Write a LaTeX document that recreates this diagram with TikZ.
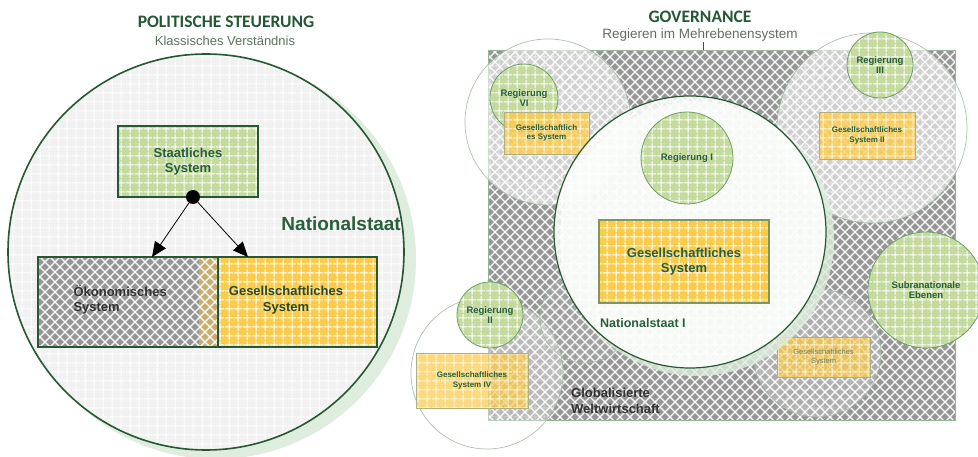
\documentclass[tikz,border=0pt]{standalone}
\usepackage{fontspec}
\setmainfont{Liberation Sans}
\newfontfamily\titlefont{Carlito}
\usetikzlibrary{patterns,arrows.meta}
\pgfdeclarepatternformonly{wgrid}{\pgfpointorigin}{\pgfqpoint{9pt}{9pt}}{\pgfqpoint{9pt}{9pt}}{%
  \pgfsetlinewidth{1.1pt}%
  \pgfpathmoveto{\pgfqpoint{0pt}{4.5pt}}\pgfpathlineto{\pgfqpoint{9pt}{4.5pt}}%
  \pgfpathmoveto{\pgfqpoint{4.5pt}{0pt}}\pgfpathlineto{\pgfqpoint{4.5pt}{9pt}}%
  \pgfusepath{stroke}}
\pgfdeclarepatternformonly{xhatch}{\pgfqpoint{-1pt}{-1pt}}{\pgfqpoint{11pt}{11pt}}{\pgfqpoint{10pt}{10pt}}{%
  \pgfsetlinewidth{1.1pt}%
  \pgfpathmoveto{\pgfqpoint{0pt}{0pt}}\pgfpathlineto{\pgfqpoint{10.1pt}{10.1pt}}%
  \pgfpathmoveto{\pgfqpoint{0pt}{10pt}}\pgfpathlineto{\pgfqpoint{10.1pt}{-0.1pt}}%
  \pgfusepath{stroke}}
\definecolor{dkgreen}{RGB}{38,88,52}
\definecolor{txgreen}{RGB}{40,95,60}
\definecolor{ltgreen}{RGB}{196,218,158}
\definecolor{yel}{RGB}{250,204,78}
\definecolor{hatchgrey}{RGB}{150,150,150}
\definecolor{paleg}{RGB}{240,241,240}
\definecolor{halo}{RGB}{222,237,222}
\definecolor{midgreen}{RGB}{110,160,100}
\definecolor{subtit}{RGB}{95,112,95}
\definecolor{tan}{RGB}{200,172,112}
\definecolor{ybord}{RGB}{175,175,130}
\definecolor{palebord}{RGB}{150,180,150}
\tikzset{
  gfill/.style={preaction={fill=#1}, pattern=wgrid, pattern color=white},
  hfill/.style={preaction={fill=#1}, pattern=xhatch, pattern color=white},
  palecirc/.style={circle, inner sep=0, preaction={fill=white, fill opacity=#1},
     pattern=wgrid, pattern color=white, fill opacity=#1, draw=palebord, draw opacity=0.8, line width=0.7pt},
  regc/.style={circle, inner sep=0, gfill=ltgreen, draw=midgreen, line width=0.8pt,
     align=center, text=txgreen, font=\bfseries\fontsize{9.5}{10.5}\selectfont},
  ybox/.style={rectangle, inner sep=0, preaction={fill=yel, fill opacity=#1}, pattern=wgrid,
     pattern color=white, fill opacity=#1, text opacity=1, draw=ybord, line width=0.8pt,
     align=center, text=txgreen, font=\bfseries\fontsize{8}{9.5}\selectfont},
  lbl/.style={align=center, text=txgreen, font=\bfseries\fontsize{13}{15.5}\selectfont, inner sep=0},
}
\begin{document}
\begin{tikzpicture}[x=1pt,y=-1pt]
\useasboundingbox (0,0) rectangle (978,457);
\fill[white] (0,0) rectangle (978,457);
% ---------- left ----------
\node[font=\titlefont\bfseries\fontsize{17.5}{20}\selectfont, text=dkgreen] (t1) at (226,22) {POLITISCHE STEUERUNG};
\node[font=\fontsize{13}{15}\selectfont, text=subtit] (t2) at (225,41) {Klassisches Verständnis};
\fill[halo] (216,259) circle (200pt);
\node[circle, inner sep=0, minimum size=396pt, gfill=paleg, draw=dkgreen, line width=1.6pt] (ns) at (206,252) {};
\node[rectangle, inner sep=0, minimum width=140pt, minimum height=71pt, gfill=ltgreen, draw=dkgreen, line width=2.5pt, lbl] (st) at (188,161.5) {Staatliches\\System};
\node[rectangle, inner sep=0, minimum width=180pt, minimum height=90pt, hfill=hatchgrey] (ok) at (128,302) {};
\node[rectangle, inner sep=0, minimum width=159pt, minimum height=90pt, gfill=yel] (gs) at (297.5,302) {};
\node[rectangle, inner sep=0, minimum width=19pt, minimum height=90pt, hfill=tan] (strip) at (208.5,302) {};
\draw[dkgreen, line width=2.5pt] (ok.north west) rectangle (gs.south east);
\draw[dkgreen, line width=2.5pt] (gs.north west) -- (gs.south west);
\node[anchor=west, align=left, text=black!80, font=\bfseries\fontsize{13}{15.5}\selectfont] (oktxt) at (70,300) {Ökonomisches\\System};
\node[lbl, text=black!45!txgreen!90!yellow] (gstxt) at (286,300) {Gesellschaftliches\\System};
\node[anchor=east, text=txgreen, font=\bfseries\fontsize{19}{22}\selectfont, inner sep=0] (nat) at (401,224) {Nationalstaat};
\node[circle, fill=black, minimum size=14pt, inner sep=0] (dot) at (193,197) {};
\coordinate (a1) at (152,257);
\coordinate (a2) at (248,257);
\draw[line width=0.8pt, -{Triangle[length=15pt,width=13pt]}] (dot) -- (a1);
\draw[line width=0.8pt, -{Triangle[length=15pt,width=13pt]}] (dot) -- (a2);
% ---------- right ----------
\node[font=\titlefont\bfseries\fontsize{17.5}{20}\selectfont, text=dkgreen] (g1) at (700,17) {GOVERNANCE};
\node[font=\fontsize{13.5}{15}\selectfont, text=subtit] (g2) at (700,35) {Regieren im Mehrebenensystem};
\node[rectangle, inner sep=0, minimum width=467pt, minimum height=370pt, hfill=hatchgrey, draw=palebord, line width=0.8pt] (gw) at (721.5,235) {};
\coordinate (tk) at (703,42);
\draw[black!70, line width=0.8pt] (tk) -- (tk |- gw.north);
\node[anchor=west, align=left, text=black!80, font=\bfseries\fontsize{13}{15.5}\selectfont, inner sep=0] (glob) at (571,401) {Globalisierte\\Weltwirtschaft};
% pale circles
\node[palecirc=0.55, minimum size=166pt] (c6) at (548,122) {};
\node[palecirc=0.55, minimum size=190pt] (c3) at (872,128) {};
\node[palecirc=0.33, minimum size=152pt] (c4) at (487,373) {};
\node[palecirc=0.22, minimum size=128pt] (c5) at (817,353) {};
\node[palecirc=0.1, minimum size=90pt] (c7) at (585,318) {};
% contents of pale circles
\node[regc, minimum size=68pt] (r6) at (524,98) {Regierung\\VI};
\node[ybox=0.8, minimum width=85pt, minimum height=42pt] (y6) at (546.5,133) {Gesellschaftlich\\es System};
\node[regc, minimum size=66pt] (r3) at (880,65) {Regierung\\III};
\node[ybox=0.8, minimum width=96pt, minimum height=47pt] (y2) at (867,135.5) {Gesellschaftliches\\System II};
\node[regc, minimum size=66pt] (r2) at (490,315) {Regierung\\II};
\node[ybox=0.72, minimum width=112pt, minimum height=55pt] (y4) at (472,380.5) {Gesellschaftliches\\System IV};
\node[ybox=0.7, minimum width=93pt, minimum height=40pt, font=\fontsize{7.5}{9.5}\selectfont, text={rgb,255:red,120;green,125;blue,90}] (y5) at (823.5,357) {Gesellschaftliches\\System};
% Nationalstaat I
\fill[halo, opacity=0.8] (697,239) circle (137pt);
\node[circle, inner sep=0, minimum size=272pt, preaction={fill=white, fill opacity=0.82}, pattern=wgrid, pattern color=white, fill opacity=0.82, draw=dkgreen, draw opacity=1, line width=1.2pt] (n1) at (690,232) {};
\node[regc, minimum size=92pt] (r1) at (687,158) {Regierung I};
\node[rectangle, inner sep=0, minimum width=170pt, minimum height=83pt, gfill=yel, draw={rgb,255:red,130;green,150;blue,95}, line width=1.5pt, lbl] (yc) at (684,261.5) {Gesellschaftliches\\System};
\node[anchor=west, text=txgreen, font=\bfseries\fontsize{12.5}{15}\selectfont, inner sep=0] (n1t) at (600,323) {Nationalstaat I};
% Subnational
\node[regc, minimum size=116pt] (sub) at (926,290) {Subranationale\\Ebenen};
\end{tikzpicture}
\end{document}
